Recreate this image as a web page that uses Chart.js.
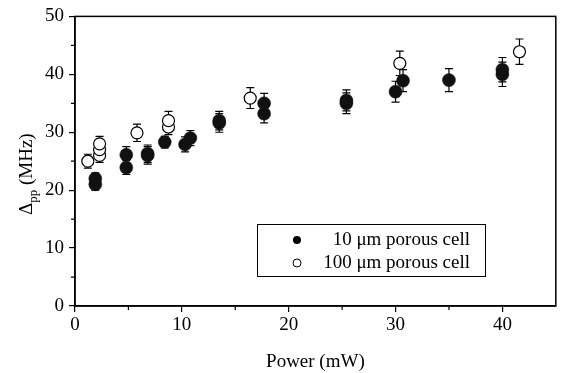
<!DOCTYPE html>
<html>
<head>
<meta charset="utf-8">
<script src="https://cdn.jsdelivr.net/npm/chart.js@4.4.0/dist/chart.umd.min.js"></script>
<style>
  body { margin: 0; background: #fff; }
  #wrap { width: 563px; height: 373px; }
</style>
</head>
<body>
<div id="wrap"><canvas id="chart"></canvas></div>
<script>
// 10 um porous cell (filled)
const smallX   = [1.9, 1.9, 4.8, 4.8, 6.8, 6.8, 8.4, 10.3, 10.8, 13.5, 13.5, 17.7, 17.7, 25.4, 25.4, 30.0, 30.7, 35.0, 40.0, 40.0];
const smallY   = [21.0, 22.0, 23.9, 26.1, 26.0, 26.3, 28.3, 27.9, 29.0, 31.6, 32.0, 33.2, 35.0, 35.0, 35.5, 37.0, 38.9, 39.0, 40.0, 40.8];
const smallErr = [1.0, 1.0, 1.2, 1.4, 1.5, 1.5, 1.0, 1.3, 1.3, 1.6, 1.6, 1.6, 1.7, 1.8, 1.8, 1.8, 1.9, 2.0, 2.1, 2.1];

// 100 um porous cell (open)
const bigX   = [1.2, 2.3, 2.3, 2.3, 5.8, 8.75, 8.75, 16.4, 30.4, 41.6];
const bigY   = [25.0, 26.0, 27.0, 28.0, 29.9, 30.9, 32.0, 35.9, 41.9, 43.9];
const bigErr = [1.2, 1.2, 1.2, 1.3, 1.5, 1.3, 1.6, 1.8, 2.1, 2.2];

const xMajor = [0, 10, 20, 30, 40];
const xMinor = [5, 15, 25, 35];
const yMinor = [5, 15, 25, 35, 45];

const legendLabels = ['10 \u03bcm porous cell', '100 \u03bcm porous cell'];

const FONT = '"Liberation Serif", "Times New Roman", serif';

function toPoints(xs, ys) {
  return xs.map((x, i) => ({ x: x, y: ys[i] }));
}

const errorBars = {
  id: 'errorBars',
  beforeDatasetsDraw(chart) {
    const ctx = chart.ctx;
    const xs = chart.scales.x, ys = chart.scales.y;
    ctx.save();
    ctx.strokeStyle = '#000';
    ctx.lineWidth = 1.2;
    chart.data.datasets.forEach(ds => {
      ds.data.forEach((p, i) => {
        const e = ds.err[i];
        const px = xs.getPixelForValue(p.x);
        const top = ys.getPixelForValue(p.y + e);
        const bot = ys.getPixelForValue(p.y - e);
        ctx.beginPath();
        ctx.moveTo(px, top); ctx.lineTo(px, bot);
        ctx.moveTo(px - 4, top); ctx.lineTo(px + 4, top);
        ctx.moveTo(px - 4, bot); ctx.lineTo(px + 4, bot);
        ctx.stroke();
      });
    });
    ctx.restore();
  }
};

const frame = {
  id: 'frame',
  afterDraw(chart) {
    const ctx = chart.ctx;
    const a = chart.chartArea;
    const xs = chart.scales.x, ys = chart.scales.y;
    ctx.save();
    ctx.strokeStyle = '#000';
    ctx.lineWidth = 1.5;
    ctx.strokeRect(a.left, a.top, a.right - a.left, a.bottom - a.top);

    // minor ticks
    ctx.lineWidth = 1.2;
    ctx.beginPath();
    xMinor.forEach(v => {
      const px = xs.getPixelForValue(v);
      ctx.moveTo(px, a.bottom); ctx.lineTo(px, a.bottom + 4);
    });
    yMinor.forEach(v => {
      const py = ys.getPixelForValue(v);
      ctx.moveTo(a.left, py); ctx.lineTo(a.left - 4, py);
    });
    ctx.stroke();

    // y title with subscript
    ctx.fillStyle = '#000';
    ctx.translate(32, 215);
    ctx.rotate(-Math.PI / 2);
    ctx.textBaseline = 'alphabetic';
    ctx.textAlign = 'left';
    ctx.font = '19px ' + FONT;
    let w = 0;
    ctx.fillText('\u0394', w, 0);
    w += ctx.measureText('\u0394').width;
    ctx.font = '13px ' + FONT;
    ctx.fillText('pp', w, 5);
    w += ctx.measureText('pp').width;
    ctx.font = '19px ' + FONT;
    ctx.fillText(' (MHz)', w, 0);
    ctx.restore();

    // legend
    ctx.save();
    ctx.strokeStyle = '#000';
    ctx.lineWidth = 1;
    ctx.strokeRect(257.5, 224.5, 228, 52);
    ctx.font = '19px ' + FONT;
    ctx.textAlign = 'right';
    ctx.textBaseline = 'middle';
    ctx.fillStyle = '#000';
    const rows = [240, 263];
    rows.forEach((ry, i) => {
      ctx.beginPath();
      ctx.arc(297, ry, 4, 0, Math.PI * 2);
      if (i === 0) { ctx.fillStyle = '#000'; ctx.fill(); }
      else { ctx.fillStyle = '#fff'; ctx.fill(); ctx.stroke(); }
      ctx.fillStyle = '#000';
      ctx.fillText(legendLabels[i], 470, ry);
    });
    ctx.restore();
  }
};

new Chart(document.getElementById('chart'), {
  type: 'scatter',
  data: {
    datasets: [
      {
        label: legendLabels[0],
        data: toPoints(smallX, smallY),
        err: smallErr,
        pointRadius: 6.5,
        pointBackgroundColor: '#111',
        pointBorderColor: '#111',
        pointBorderWidth: 0.5
      },
      {
        label: legendLabels[1],
        data: toPoints(bigX, bigY),
        err: bigErr,
        pointRadius: 6,
        pointBackgroundColor: '#fff',
        pointBorderColor: '#000',
        pointBorderWidth: 1.2
      }
    ]
  },
  options: {
    responsive: true,
    maintainAspectRatio: false,
    animation: false,
    layout: { padding: { top: 13, right: 5, left: 0, bottom: 0 } },
    plugins: {
      legend: { display: false },
      tooltip: { enabled: false }
    },
    scales: {
      x: {
        type: 'linear',
        min: 0,
        max: 45,
        afterBuildTicks: s => { s.ticks = xMajor.map(v => ({ value: v })); },
        afterFit: s => { s.height = 67; },
        grid: { drawOnChartArea: false, drawTicks: true, tickLength: 6, color: '#000', tickColor: '#000', lineWidth: 1.2 },
        border: { display: true, color: '#000', width: 1.5 },
        ticks: { color: '#000', padding: 2, font: { family: FONT, size: 19 } },
        title: { display: true, text: 'Power (mW)', color: '#000', padding: { top: 4, bottom: 0 }, font: { family: FONT, size: 19 } }
      },
      y: {
        min: 0,
        max: 50,
        afterFit: s => { s.width = 75; },
        grid: { drawOnChartArea: false, drawTicks: true, tickLength: 6, color: '#000', tickColor: '#000', lineWidth: 1.2 },
        border: { display: true, color: '#000', width: 1.5 },
        ticks: { stepSize: 10, color: '#000', padding: 5, font: { family: FONT, size: 19 } }
      }
    }
  },
  plugins: [errorBars, frame]
});
</script>
</body>
</html>
